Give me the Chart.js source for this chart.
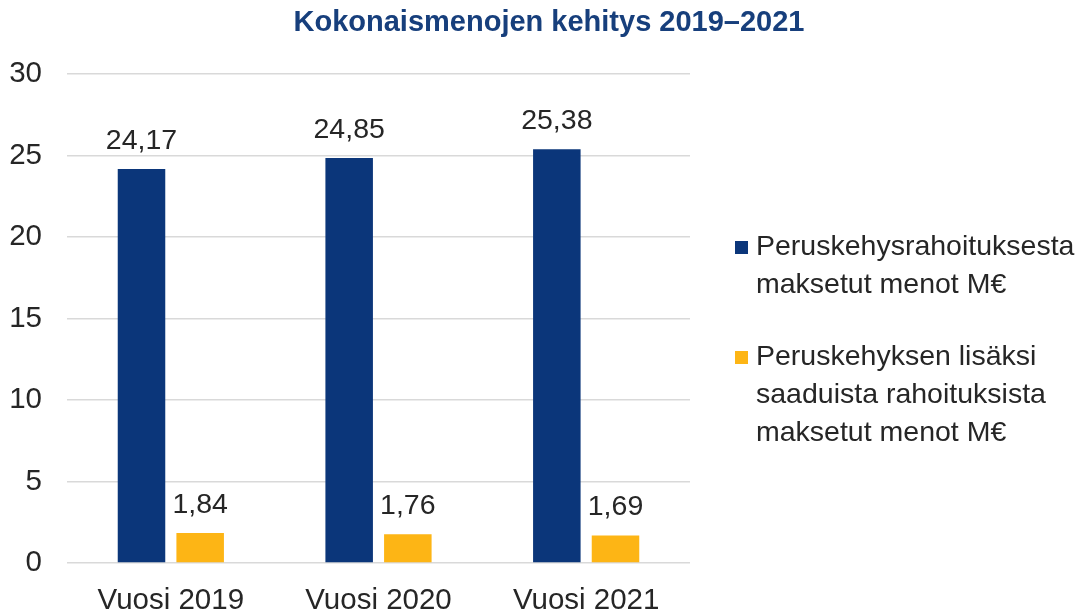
<!DOCTYPE html>
<html>
<head>
<meta charset="utf-8">
<script src="https://cdn.jsdelivr.net/npm/chart.js@4"></script>
<style>
  html, body { margin: 0; padding: 0; background: #fff; }
  #wrap { width: 1089px; height: 610px; }
</style>
</head>
<body>
<div id="wrap"><canvas id="myChart" width="1089" height="610"></canvas></div>
<script>
const ctx = document.getElementById('myChart');

// data
const titleText = 'Kokonaismenojen kehitys 2019–2021';
const years = ['Vuosi 2019', 'Vuosi 2020', 'Vuosi 2021'];
const perusMenot = [24.17, 24.85, 25.38];
const lisaMenot = [1.84, 1.76, 1.69];
const legendLines = [
  ['Peruskehysrahoituksesta', 'maksetut menot M€'],
  ['Peruskehyksen lisäksi', 'saaduista rahoituksista', 'maksetut menot M€']
];
const yTicks = [0, 5, 10, 15, 20, 25, 30];

const navy = '#0b367a';
const yellow = '#fdb515';
const txt = '#262626';
const font = '"Liberation Sans", Arial, sans-serif';

// title centred on the whole picture, not only the plot
const topTitle = {
  id: 'topTitle',
  afterDraw(chart) {
    const c = chart.ctx;
    c.save();
    c.font = 'bold 29px ' + font;
    c.fillStyle = '#173f7c';
    c.textAlign = 'center';
    c.textBaseline = 'middle';
    c.fillText(titleText, 549, 23);
    c.restore();
  }
};

// labels above bars, finnish decimal comma
const valueLabels = {
  id: 'valueLabels',
  afterDatasetsDraw(chart) {
    const c = chart.ctx;
    c.save();
    c.font = '28.5px ' + font;
    c.fillStyle = txt;
    c.textAlign = 'center';
    c.textBaseline = 'alphabetic';
    chart.data.datasets.forEach((ds, i) => {
      chart.getDatasetMeta(i).data.forEach((bar, j) => {
        c.fillText(ds.data[j].toFixed(2).replace('.', ','), bar.x, bar.y - 20);
      });
    });
    c.restore();
  }
};

// legend on the right with wrapped lines
const sideLegend = {
  id: 'sideLegend',
  afterDraw(chart) {
    const c = chart.ctx;
    c.save();
    c.font = '28.5px ' + font;
    c.textBaseline = 'middle';
    let y = 247;
    chart.data.datasets.forEach((ds, i) => {
      c.fillStyle = ds.backgroundColor;
      c.fillRect(735, y - 6, 13, 13);
      c.fillStyle = txt;
      legendLines[i].forEach((line, k) => {
        c.fillText(line, 756, y + k * 38);
      });
      y += 110;
    });
    c.restore();
  }
};

const data = {
  labels: years,
  datasets: [{
    label: legendLines[0].join(' '),
    data: perusMenot,
    backgroundColor: navy
  }, {
    label: legendLines[1].join(' '),
    data: lisaMenot,
    backgroundColor: yellow
  }]
};

const config = {
  type: 'bar',
  data: data,
  options: {
    responsive: false,
    animation: false,
    categoryPercentage: 0.565,
    barPercentage: 0.81,
    layout: { padding: { top: 74, right: 399, left: 0, bottom: 0 } },
    plugins: {
      legend: { display: false },
      tooltip: { enabled: false },
      title: { display: false }
    },
    scales: {
      x: {
        grid: { display: false },
        border: { display: false },
        ticks: { color: txt, font: { family: font, size: 29.5 }, padding: 12 },
        afterFit(s) { s.height = 47; }
      },
      y: {
        min: 0,
        max: 30,
        afterBuildTicks(s) { s.ticks = yTicks.map(v => ({ value: v })); },
        grid: { color: '#d9d9d9', lineWidth: 1.5, drawTicks: false },
        border: { display: false },
        ticks: { color: txt, font: { family: font, size: 29.5 }, padding: 25 },
        afterFit(s) { s.width = 67; }
      }
    }
  },
  plugins: [valueLabels, sideLegend, topTitle]
};

const myChart = new Chart(ctx, config);
</script>
</body>
</html>
